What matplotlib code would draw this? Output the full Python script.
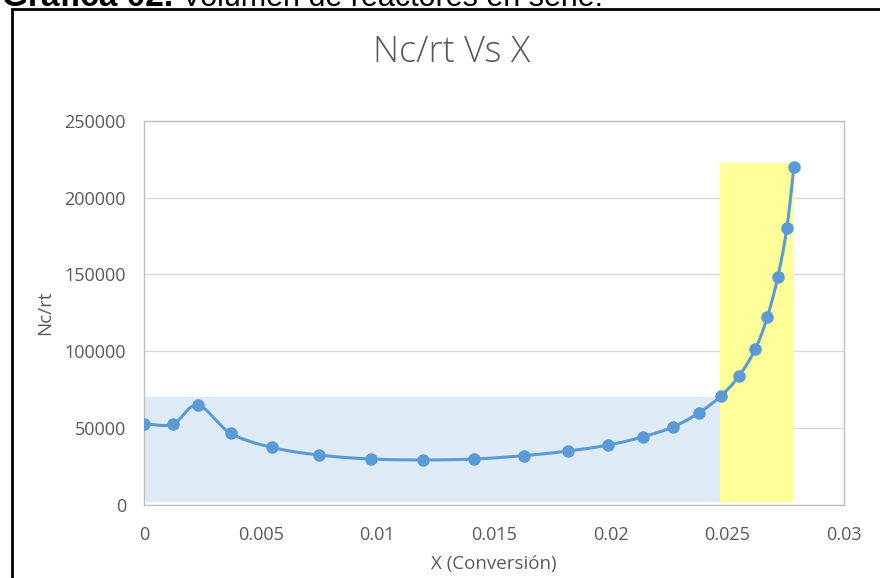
import numpy as np
import matplotlib
matplotlib.use("Agg")
import matplotlib.pyplot as plt
from matplotlib.patches import Rectangle

# Conversion X and Nc/rt values
x_conv = [0.0, 0.00123, 0.0023, 0.00371, 0.00547, 0.0075, 0.00972, 0.01197,
          0.01416, 0.01629, 0.01816, 0.0199, 0.0214, 0.02269, 0.02379,
          0.02474, 0.02551, 0.0262, 0.02671, 0.02716, 0.02755, 0.02785]
nc_rt = [53000, 52500, 65000, 46700, 37500, 32500, 29900, 29300,
         29900, 32100, 35100, 39000, 44400, 50900, 60000,
         71100, 84100, 101500, 122100, 148100, 180000, 219700]

# Shaded regions: (x_start, x_end, y_bottom, y_top)
blue_region = (0.0, 0.0247, 2000, 70000)
yellow_region = (0.0247, 0.02785, 2000, 222500)

x_ticks = [0, 0.005, 0.01, 0.015, 0.02, 0.025, 0.03]
x_tick_labels = ["0", "0.005", "0.01", "0.015", "0.02", "0.025", "0.03"]
y_ticks = [0, 50000, 100000, 150000, 200000, 250000]
y_tick_labels = ["0", "50000", "100000", "150000", "200000", "250000"]

LINE_BLUE = "#5B9BD5"
GRAY_TEXT = "#595959"
FONT = ["Open Sans", "DejaVu Sans"]


def smooth_curve(xs, ys, n=30):
    """Bezier smoothing through every point (Catmull-Rom style tangents)."""
    xs = np.asarray(xs, float)
    ys = np.asarray(ys, float)
    px = np.concatenate([[xs[0]], xs, [xs[-1]]])
    py = np.concatenate([[ys[0]], ys, [ys[-1]]])
    out_x, out_y = [], []
    t = np.linspace(0, 1, n)
    for i in range(1, len(px) - 2):
        p0 = np.array([px[i], py[i]])
        p3 = np.array([px[i + 1], py[i + 1]])
        c1 = p0 + (np.array([px[i + 1], py[i + 1]]) - np.array([px[i - 1], py[i - 1]])) / 6
        c2 = p3 - (np.array([px[i + 2], py[i + 2]]) - np.array([px[i], py[i]])) / 6
        b = ((1 - t) ** 3)[:, None] * p0 + (3 * (1 - t) ** 2 * t)[:, None] * c1 \
            + (3 * (1 - t) * t ** 2)[:, None] * c2 + (t ** 3)[:, None] * p3
        out_x.extend(b[:, 0])
        out_y.extend(b[:, 1])
    return np.array(out_x), np.array(out_y)


fig = plt.figure(figsize=(8.8, 5.78), dpi=100)
W, H = 880, 578
ax = fig.add_axes([144 / W, 1 - 505 / H, 700 / W, 384.3 / H])

# highlighted regions
for (x0, x1, y0, y1), col in [(blue_region, "#DEEAF6"), (yellow_region, "#FFFF99")]:
    ax.add_patch(Rectangle((x0, y0), x1 - x0, y1 - y0, facecolor=col,
                           edgecolor="none", zorder=1))

sx, sy = smooth_curve(x_conv, nc_rt)
ax.plot(sx, sy, color=LINE_BLUE, lw=2.2, zorder=3, solid_capstyle="round")
ax.plot(x_conv, nc_rt, "o", color=LINE_BLUE, ms=8, zorder=4)

ax.set_xlim(0, 0.03)
ax.set_ylim(0, 250000)
ax.set_xticks(x_ticks)
ax.set_xticklabels(x_tick_labels)
ax.set_yticks(y_ticks)
ax.set_yticklabels(y_tick_labels)
ax.tick_params(length=0, labelsize=13, labelcolor=GRAY_TEXT)
ax.tick_params(axis="x", pad=15)
ax.tick_params(axis="y", pad=13)
for lab in ax.get_xticklabels() + ax.get_yticklabels():
    lab.set_fontfamily(FONT)
ax.grid(axis="y", color="#D9D9D9", lw=1, zorder=0)
ax.set_axisbelow(True)
for sp in ax.spines.values():
    sp.set_color("#BFBFBF")
    sp.set_linewidth(1)

ax.set_ylabel("Nc/rt", fontsize=13.5, color=GRAY_TEXT, family=FONT)
ax.yaxis.set_label_coords((54 - 144) / 700, 0.5)
ax.set_xlabel("X (Conversión)", fontsize=13.5, color=GRAY_TEXT, family=FONT)
ax.xaxis.set_label_coords(0.5, (505 - 555) / 384.3)

fig.text(452 / W, 1 - 52 / H, "Nc/rt Vs X", fontsize=26, color=GRAY_TEXT,
         family=FONT, ha="center", va="center", fontweight="light")

# outer frame
fig.patches.append(Rectangle((12 / W, -0.05), 1.2, 1 - 9 / H + 0.05,
                             transform=fig.transFigure, fill=False,
                             edgecolor="black", lw=2, zorder=5))

# document caption above the frame
renderer = fig.canvas.get_renderer()
t1 = fig.text(2 / W, 1 - 6 / H, "Gráfica 02.", fontsize=24, fontweight="bold",
              family=["Liberation Sans", "DejaVu Sans"], va="baseline", ha="left")
bb = t1.get_window_extent(renderer)
fig.text(bb.x1 / W, 1 - 6 / H, " Volumen de reactores en serie.", fontsize=22,
         family=["Liberation Sans", "DejaVu Sans"], va="baseline", ha="left")

fig.savefig("out.png", dpi=100)
